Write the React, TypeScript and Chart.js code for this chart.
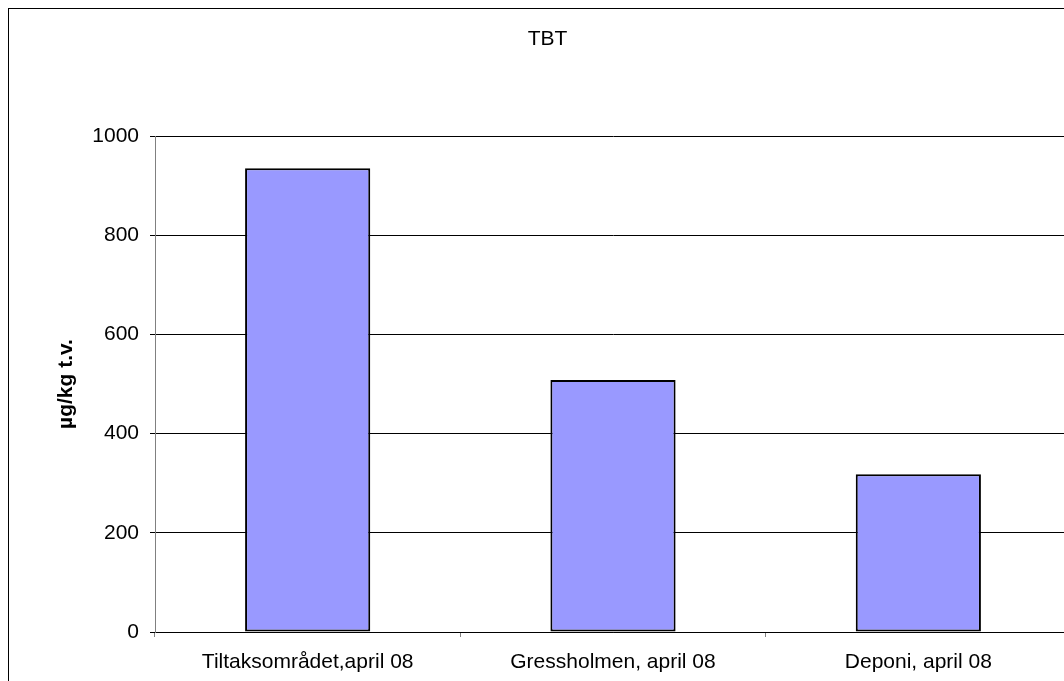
import { useEffect, useRef } from "react";
import { Chart, registerables } from "chart.js";

Chart.register(...registerables);

const categories = ["Tiltaksområdet,april 08", "Gressholmen, april 08", "Deponi, april 08"];
const tbtValues = [935, 508, 318];
const yTickValues = [0, 200, 400, 600, 800, 1000];
const chartTitle = "TBT";
const yAxisTitle = "µg/kg t.v.";

const W = 1080;
const H = 690;
const FONT = "'Liberation Sans', Arial, Helvetica, sans-serif";

const borderPlugin = {
  id: "outerBorder",
  beforeDraw(chart: any) {
    const ctx = chart.ctx;
    ctx.save();
    ctx.fillStyle = "#ffffff";
    ctx.fillRect(0, 0, chart.width, chart.height);
    ctx.restore();
  },
  afterDraw(chart: any) {
    const ctx = chart.ctx;
    ctx.save();
    ctx.strokeStyle = "#000000";
    ctx.lineWidth = 1;
    ctx.strokeRect(0.5, 0.5, chart.width - 1, chart.height - 1);
    ctx.restore();
  },
};

export default function App() {
  const ref = useRef<HTMLCanvasElement | null>(null);

  useEffect(() => {
    const canvas = ref.current;
    if (!canvas) return;
    const chart = new Chart(canvas, {
      type: "bar",
      data: {
        labels: categories,
        datasets: [
          {
            data: tbtValues,
            backgroundColor: "#9999FF",
            borderColor: "#000000",
            borderWidth: 2,
            borderSkipped: false,
            categoryPercentage: 1,
            barPercentage: 0.41,
          },
        ],
      },
      options: {
        responsive: false,
        animation: false,
        devicePixelRatio: 1,
        layout: { padding: { left: 16, right: 17, top: 0, bottom: 0 } },
        plugins: {
          legend: { display: false },
          tooltip: { enabled: false },
          title: {
            display: true,
            text: chartTitle,
            color: "#000",
            font: { family: FONT, size: 21, weight: "normal" },
            padding: { top: 18.4, bottom: 84.4 },
          },
        },
        scales: {
          x: {
            offset: true,
            grid: {
              display: true,
              drawOnChartArea: false,
              drawTicks: true,
              tickLength: 5,
              offset: true,
              color: "#808080",
              tickColor: "#808080",
            },
            border: { display: true, color: "#000000", width: 1 },
            ticks: {
              color: "#000",
              font: { family: FONT, size: 21 },
              maxRotation: 0,
              minRotation: 0,
              autoSkip: false,
              padding: 13,
            },
            afterFit(scale: any) {
              scale.height = H - 624;
            },
          },
          y: {
            min: 0,
            max: 1000,
            afterBuildTicks(scale: any) {
              scale.ticks = yTickValues.map((v) => ({ value: v }));
            },
            grid: {
              color: "#000000",
              tickColor: "#000000",
              tickLength: 5,
              lineWidth: 1,
            },
            border: { display: true, color: "#808080", width: 1 },
            ticks: {
              color: "#000",
              font: { family: FONT, size: 21 },
              padding: 11,
              callback: (value: any) => String(value),
            },
            title: {
              display: true,
              text: yAxisTitle,
              color: "#000",
              font: { family: FONT, size: 21, weight: "bold" },
              padding: { top: 30, bottom: 0 },
            },
            afterFit(scale: any) {
              scale.width = 131;
            },
          },
        },
      },
      plugins: [borderPlugin],
    });
    return () => chart.destroy();
  }, []);

  return (
    <canvas
      ref={ref}
      width={W}
      height={H}
      style={{
        display: "block",
        position: "fixed",
        left: "8px",
        top: "8px",
        width: W + "px",
        height: H + "px",
      }}
    />
  );
}
